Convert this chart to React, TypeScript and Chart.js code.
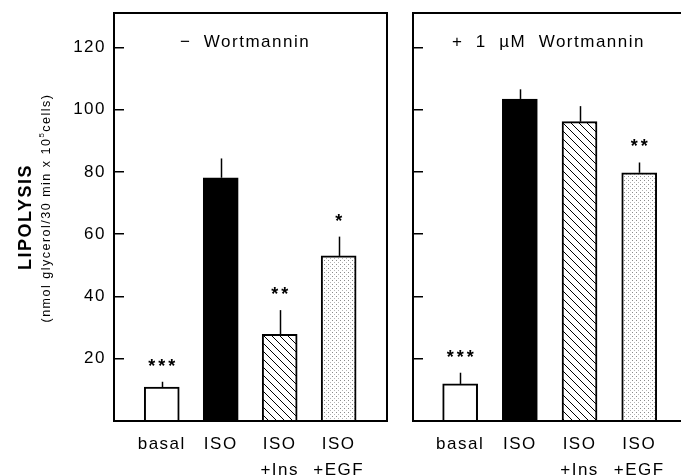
import React, { useEffect, useRef } from "react";
import { Chart, registerables } from "chart.js";

Chart.register(...registerables);

const FONT = "'Liberation Sans', Arial, Helvetica, sans-serif";

const categories: string[][] = [["basal"], ["ISO"], ["ISO", "+Ins"], ["ISO", "+EGF"]];
const yTicks = [20, 40, 60, 80, 100, 120];

const leftValues = [10.9, 78.1, 27.8, 53.0];
const leftErrors = [1.7, 6.2, 7.8, 6.2];
const leftStars = ["***", "", "**", "*"];

const rightValues = [11.9, 103.4, 96.1, 79.7];
const rightErrors = [3.6, 3.1, 5.0, 3.3];
const rightStars = ["***", "", "", "**"];

const leftTitle = "\u2212  Wortmannin";
const rightTitle = "+  1  \u00b5M  Wortmannin";
const yTitle = "LIPOLYSIS";
const ySubA = "(nmol glycerol/30 min x 10";
const ySubSup = "5";
const ySubB = "cells)";

function makeHatch(): CanvasPattern {
  const s = 8;
  const c = document.createElement("canvas");
  c.width = s;
  c.height = s;
  const g = c.getContext("2d")!;
  g.fillStyle = "#fff";
  g.fillRect(0, 0, s, s);
  g.strokeStyle = "#000";
  g.lineWidth = 1;
  g.beginPath();
  g.moveTo(0, 0);
  g.lineTo(s, s);
  g.moveTo(-1, s - 1);
  g.lineTo(1, s + 1);
  g.moveTo(s - 1, -1);
  g.lineTo(s + 1, 1);
  g.stroke();
  return g.createPattern(c, "repeat")!;
}

function makeDots(): CanvasPattern {
  const s = 4;
  const c = document.createElement("canvas");
  c.width = s;
  c.height = s;
  const g = c.getContext("2d")!;
  g.fillStyle = "#fff";
  g.fillRect(0, 0, s, s);
  g.fillStyle = "#8a8a8a";
  g.fillRect(0, 0, 1, 1);
  g.fillStyle = "#b5b5b5";
  g.fillRect(2, 2, 1, 1);
  return g.createPattern(c, "repeat")!;
}

function panelPlugin(values: number[], errors: number[], stars: string[], title: string, isLeft: boolean) {
  return {
    id: "panel" + (isLeft ? "L" : "R"),
    beforeDraw(chart: any) {
      chart.ctx.letterSpacing = "1.5px";
    },
    afterDatasetsDraw(chart: any) {
      const { ctx, chartArea: a, scales } = chart;
      const xs = scales.x;
      const ys = scales.y;
      ctx.save();
      ctx.letterSpacing = "1.5px";
      // error bars
      ctx.strokeStyle = "#000";
      ctx.lineWidth = 1.5;
      values.forEach((v, i) => {
        const x = Math.round(xs.getPixelForValue(i)) + 0.5;
        ctx.beginPath();
        ctx.moveTo(x, ys.getPixelForValue(v));
        ctx.lineTo(x, ys.getPixelForValue(v + errors[i]));
        ctx.stroke();
      });
      // significance stars
      ctx.fillStyle = "#000";
      ctx.font = `bold 18px ${FONT}`;
      ctx.textAlign = "center";
      ctx.textBaseline = "middle";
      ctx.letterSpacing = "3px";
      stars.forEach((st, i) => {
        if (!st) return;
        const x = xs.getPixelForValue(i) + 1.5;
        const y = ys.getPixelForValue(values[i] + errors[i]) - 15;
        ctx.fillText(st, x, y);
      });
      ctx.letterSpacing = "1.5px";
      // frame
      ctx.lineWidth = 2;
      ctx.strokeStyle = "#000";
      ctx.beginPath();
      if (isLeft) {
        ctx.rect(a.left, a.top, a.right - a.left, a.bottom - a.top);
      } else {
        ctx.moveTo(chart.width, a.top);
        ctx.lineTo(a.left, a.top);
        ctx.lineTo(a.left, a.bottom);
        ctx.lineTo(chart.width, a.bottom);
      }
      ctx.stroke();
      // panel title
      ctx.font = `17px ${FONT}`;
      ctx.textAlign = "left";
      ctx.textBaseline = "middle";
      ctx.fillText(title, a.left + (isLeft ? 66 : 39), 42);
      // y axis title
      if (isLeft) {
        ctx.save();
        ctx.translate(26, 218);
        ctx.rotate(-Math.PI / 2);
        ctx.font = `bold 18px ${FONT}`;
        ctx.textAlign = "center";
        ctx.fillText(yTitle, 1, 0);
        ctx.restore();

        ctx.save();
        ctx.translate(47, 208);
        ctx.rotate(-Math.PI / 2);
        ctx.textAlign = "left";
        ctx.font = `12.5px ${FONT}`;
        const wA = ctx.measureText(ySubA).width;
        const wB = ctx.measureText(ySubB).width;
        ctx.font = `8px ${FONT}`;
        const wS = ctx.measureText(ySubSup).width;
        const total = wA + wS + wB;
        let x0 = -total / 2;
        ctx.font = `12.5px ${FONT}`;
        ctx.fillText(ySubA, x0, 0);
        x0 += wA;
        ctx.font = `8px ${FONT}`;
        ctx.fillText(ySubSup, x0, -5);
        x0 += wS;
        ctx.font = `12.5px ${FONT}`;
        ctx.fillText(ySubB, x0, 0);
        ctx.restore();
      }
      ctx.restore();
    },
  };
}

function buildConfig(values: number[], errors: number[], stars: string[], title: string, isLeft: boolean, fills: any[]): any {
  return {
    type: "bar",
    data: {
      datasets: [
        {
          data: values.map((v, i) => ({ x: i, y: v })),
          backgroundColor: fills,
          borderColor: "#000",
          borderWidth: 2,
          barThickness: 35,
          borderSkipped: "bottom",
        },
      ],
    },
    options: {
      animation: false,
      responsive: false,
      maintainAspectRatio: false,
      devicePixelRatio: 1,
      layout: { padding: { left: 0, top: 13, right: isLeft ? 13 : 0, bottom: 0 } },
      plugins: {
        legend: { display: false },
        tooltip: { enabled: false },
        title: { display: false },
      },
      scales: {
        x: {
          type: "linear",
          min: isLeft ? -0.81 : -0.79,
          max: isLeft ? 3.82 : 3.7,
          offset: false,
          afterBuildTicks: (s: any) => {
            s.ticks = categories.map((_, i) => ({ value: i }));
          },
          afterFit: (s: any) => {
            s.height = 55;
            s.paddingLeft = 0;
            s.paddingRight = 0;
          },
          grid: { display: false },
          border: { display: false },
          ticks: {
            color: "#000",
            font: { family: FONT, size: 17, lineHeight: 1.53 },
            padding: 2,
            maxRotation: 0,
            minRotation: 0,
            autoSkip: false,
            callback: (v: any) => categories[v] ?? "",
          },
        },
        y: {
          type: "linear",
          min: 0,
          max: 131,
          afterBuildTicks: (s: any) => {
            s.ticks = yTicks.map((v) => ({ value: v }));
          },
          afterFit: (s: any) => {
            s.width = isLeft ? 114 : 13;
            s.paddingTop = 0;
            s.paddingBottom = 0;
          },
          grid: {
            display: true,
            drawOnChartArea: false,
            drawTicks: true,
            tickLength: -10,
            color: "#000",
            tickWidth: 1.5,
            lineWidth: 1.5,
          },
          border: { display: false },
          ticks: {
            display: isLeft,
            color: "#000",
            font: { family: FONT, size: 17 },
            padding: 18,
          },
        },
      },
    },
    plugins: [panelPlugin(values, errors, stars, title, isLeft)],
  };
}

export default function App() {
  const lRef = useRef<HTMLCanvasElement>(null);
  const rRef = useRef<HTMLCanvasElement>(null);

  useEffect(() => {
    const fills = ["#ffffff", "#000000", makeHatch(), makeDots()];
    const c1 = new Chart(lRef.current!, buildConfig(leftValues, leftErrors, leftStars, leftTitle, true, fills));
    const c2 = new Chart(rRef.current!, buildConfig(rightValues, rightErrors, rightStars, rightTitle, false, fills));
    return () => {
      c1.destroy();
      c2.destroy();
    };
  }, []);

  return (
    <div style={{ position: "absolute", left: 0, top: 0, width: 681, height: 476, background: "#fff" }}>
      <canvas ref={lRef} width={400} height={476} style={{ position: "absolute", left: 0, top: 0 }} />
      <canvas ref={rRef} width={281} height={476} style={{ position: "absolute", left: 400, top: 0 }} />
    </div>
  );
}
